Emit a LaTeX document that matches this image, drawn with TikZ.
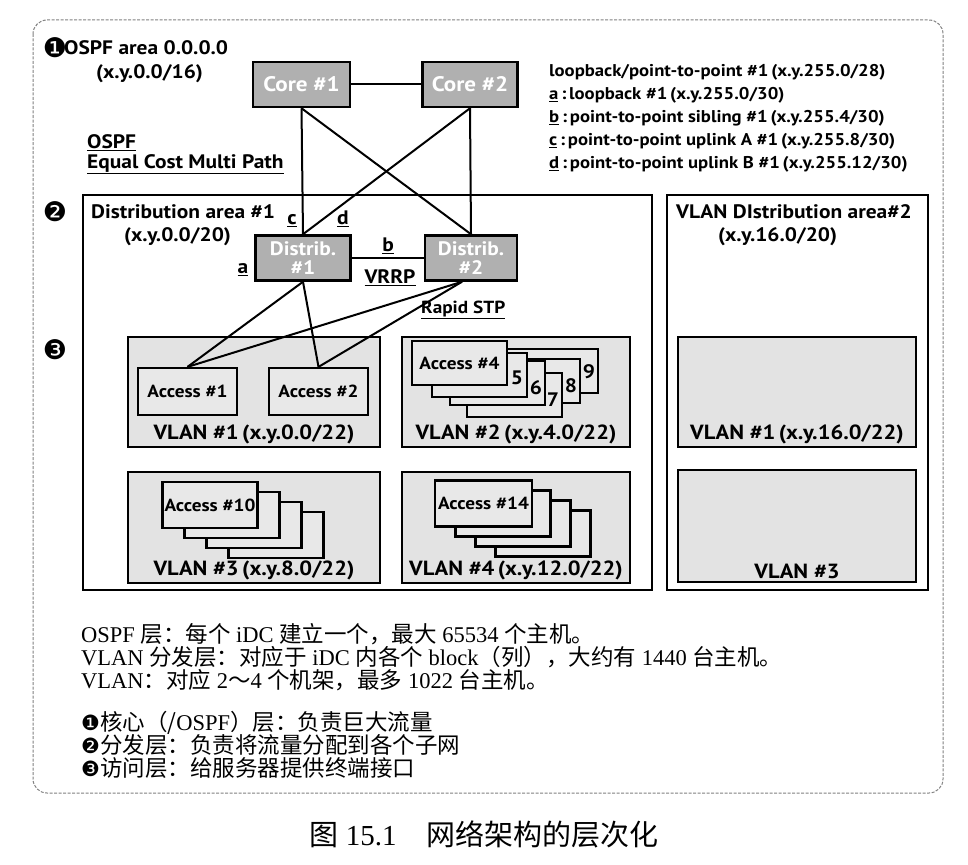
\documentclass[tikz,border=0pt]{standalone}
\usepackage{fontspec}
\setmainfont{PT Sans}[FakeStretch=1.1]
\newfontfamily\zh{Noto Sans CJK SC}
\newfontfamily\en{Liberation Serif}
\newfontfamily\sym{DejaVu Sans}
\usetikzlibrary{positioning}
\newcommand{\E}[1]{{\en #1}}
\newcommand{\cnum}[1]{{\sym\fontsize{21}{20}\selectfont #1}}

\tikzset{
  frame/.style={draw=gray, dash pattern=on 3pt off 1.5pt, line width=1pt, rounded corners=14pt},
  areabox/.style={draw, line width=2.2pt, inner sep=0pt},
  vlanbox/.style={draw, line width=2.2pt, fill=gray!22, inner sep=0pt},
  accbox/.style={draw, line width=2.2pt, fill=gray!18, minimum width=95pt, minimum height=44pt, inner sep=0pt, font=\bfseries\fontsize{17.5}{19}\selectfont},
  corebox/.style={draw, line width=2.5pt, fill=gray!62, text=white, minimum width=95pt, minimum height=45pt, inner sep=0pt, align=center, font=\bfseries\fontsize{21}{18}\selectfont},
  distbox/.style={corebox, font=\bfseries\fontsize{19.5}{19}\selectfont},
  link/.style={line width=2pt},
  lbl/.style={inner sep=0pt, font=\bfseries\fontsize{19.5}{21}\selectfont},
  lblw/.style={lbl, anchor=west},
  listlbl/.style={lbl, anchor=west, font=\bfseries\fontsize{17}{20}\selectfont},
  numlbl/.style={inner sep=0pt, font=\sym\fontsize{27}{27}\selectfont},
  vlanlbl/.style={lbl, font=\bfseries\fontsize{20.5}{21}\selectfont},
  txt/.style={anchor=west, inner sep=0pt, text height=16.5pt, text depth=4.5pt, font=\zh\fontsize{22.5}{25}\selectfont},
}

\begin{document}
\begin{tikzpicture}[x=1pt,y=-1pt]
\useasboundingbox (0,0) rectangle (968,864);
\draw[frame] (33,20) rectangle (943,793);

% layer 1: core
\node[numlbl] (n1) at (55,48) {❶};
\node[lblw] (ospfarea) at (64,48) {OSPF area 0.0.0.0};
\node[lblw] (ospfnet) at (96,74) {(x.y.0.0/16)};
\node[lblw] (ospf) at (87,143) {\underline{OSPF}};
\node[lblw] (ecmp) at (87,164) {\underline{Equal Cost Multi Path}};

\node[listlbl] (lp) at (549,72) {loopback/point-to-point \#1\,(x.y.255.0/28)};
\node[listlbl] (la) at (549,95) {\underline{a}\,:\,loopback \#1\,(x.y.255.0/30)};
\node[listlbl] (lb) at (549,118) {\underline{b}\,:\,point-to-point sibling \#1\,(x.y.255.4/30)};
\node[listlbl] (lc) at (549,141) {\underline{c}\,:\,point-to-point uplink A \#1\,(x.y.255.8/30)};
\node[listlbl] (ld) at (549,164) {\underline{d}\,:\,point-to-point uplink B \#1\,(x.y.255.12/30)};

\node[corebox, minimum width=97pt] (core1) at (301.5,84.5) {Core \#1};
\node[corebox] (core2) at (470,84.5) {Core \#2};

% layer 2: distribution
\node[numlbl] (n2) at (55,212) {❷};
\node[areabox, minimum width=569pt, minimum height=395pt] (area1) at (367.5,392.5) {};
\node[areabox, minimum width=261pt, minimum height=395pt] (area2) at (797.5,392.5) {};
\node[lblw] (area1t) at (91,212) {Distribution area \#1};
\node[lblw] (area1n) at (124,237) {(x.y.0.0/20)};
\node[lblw] (area2t) at (676,212) {VLAN DIstribution area\#2};
\node[lblw] (area2n) at (718,237) {(x.y.16.0/20)};

\node[distbox] (dist1) at (303,258) {Distrib.\\\#1};
\node[distbox, minimum width=92pt] (dist2) at (471,258) {Distrib.\\\#2};

\node[lbl] (lblc) at (292,221) {\underline{c}};
\node[lbl] (lbld) at (343,219) {\underline{d}};
\node[lbl] (lbla) at (243,270) {\underline{a}};
\node[lbl] (lblb) at (388,246) {\underline{b}};
\node[lbl] (vrrp) at (390,278) {\underline{VRRP}};
\node[lblw, font=\bfseries\fontsize{17.5}{20}\selectfont] (rstp) at (421,310) {\underline{Rapid STP}};

% layer 3: access
\node[numlbl] (n3) at (55,350) {❸};
\node[vlanbox, minimum width=252pt, minimum height=110pt] (vlan1) at (254,392) {};
\node[vlanbox, minimum width=228pt, minimum height=110pt] (vlan2) at (516,392) {};
\node[vlanbox, minimum width=252pt, minimum height=111pt] (vlan3) at (254,527.5) {};
\node[vlanbox, minimum width=228pt, minimum height=111pt] (vlan4) at (516,527.5) {};
\node[vlanbox, minimum width=238pt, minimum height=110pt] (vlanb1) at (797,392) {};
\node[vlanbox, minimum width=238pt, minimum height=112pt] (vlanb3) at (797,526) {};

\node[vlanlbl, above=4pt of vlan1.south] (vlan1t) {VLAN \#1\,(x.y.0.0/22)};
\node[vlanlbl, above=4pt of vlan2.south] (vlan2t) {VLAN \#2\,(x.y.4.0/22)};
\node[vlanlbl, above=4pt of vlan3.south] (vlan3t) {VLAN \#3\,(x.y.8.0/22)};
\node[vlanlbl, above=4pt of vlan4.south] (vlan4t) {VLAN \#4\,(x.y.12.0/22)};
\node[vlanlbl, above=4pt of vlanb1.south] (vlanb1t) {VLAN \#1\,(x.y.16.0/22)};
\node[vlanlbl, above=4pt of vlanb3.south] (vlanb3t) {VLAN \#3};

\node[accbox, minimum width=99pt, minimum height=47pt] (acc1) at (187.5,391.5) {Access \#1};
\node[accbox, minimum width=99pt, minimum height=47pt] (acc2) at (318.5,391.5) {Access \#2};

\node[accbox] (acc9) at (550.5,371) {};
\node[accbox] (acc8) at (532.5,381) {};
\node[accbox] (acc7) at (514.5,395) {};
\node[accbox] (acc6) at (497.5,383) {};
\node[accbox] (acc5) at (479.5,375) {};
\node[accbox] (acc4) at (459.5,363) {Access \#4};
\node[lbl] (num5) at (517,378) {5};
\node[lbl] (num6) at (536,388) {6};
\node[lbl] (num7) at (553,400) {7};
\node[lbl] (num8) at (571,386) {8};
\node[lbl] (num9) at (589,372) {9};

\node[accbox, minimum height=46pt] (acc13) at (276,535) {};
\node[accbox, minimum height=46pt] (acc12) at (254,525) {};
\node[accbox, minimum height=46pt] (acc11) at (232,515) {};
\node[accbox, minimum height=46pt] (acc10) at (210,505) {Access \#10};

\node[accbox, minimum height=46pt] (acc17) at (543,533.5) {};
\node[accbox, minimum height=46pt] (acc16) at (523,523.5) {};
\node[accbox, minimum height=46pt] (acc15) at (503,513.5) {};
\node[accbox, minimum width=97pt, minimum height=46pt] (acc14) at (483.5,503.5) {Access \#14};

% links
\draw[link] (core1) -- (core2);
\draw[link] (core1.south) -- (dist1.north);
\draw[link] (core1.south) -- (dist2.north);
\draw[link] (core2.south) -- (dist1.north);
\draw[link] (core2.south) -- (dist2.north);
\draw[link] (dist1) -- (dist2);
\draw[link] (dist1.south) -- (acc1.north);
\draw[link] (dist1.south) -- (acc2.north);
\draw[link] ([xshift=-9pt]dist2.south) -- (acc1.north);
\draw[link] ([xshift=-9pt]dist2.south) -- (acc2.north);

% notes
\node[txt] (note1) at (81,636) {\E{OSPF }层：每个\E{ iDC }建立一个，最大\E{ 65534 }个主机。};
\node[txt] (note2) at (81,659) {\E{VLAN }分发层：对应于\E{ iDC }内各个\E{ block}（列），大约有\E{ 1440 }台主机。};
\node[txt] (note3) at (81,682) {\E{VLAN}：对应\E{ 2}～\E{4 }个机架，最多\E{ 1022 }台主机。};
\node[txt] (note4) at (81,724) {\cnum{❶}核心（/\E{OSPF}）层：负责巨大流量};
\node[txt] (note5) at (81,747) {\cnum{❷}分发层：负责将流量分配到各个子网};
\node[txt] (note6) at (81,770) {\cnum{❸}访问层：给服务器提供终端接口};

\node[inner sep=0pt, font=\zh\fontsize{29}{30}\selectfont] (caption) at (484,834) {图\E{ 15.1}\hspace{30pt}网络架构的层次化};
\end{tikzpicture}
\end{document}
